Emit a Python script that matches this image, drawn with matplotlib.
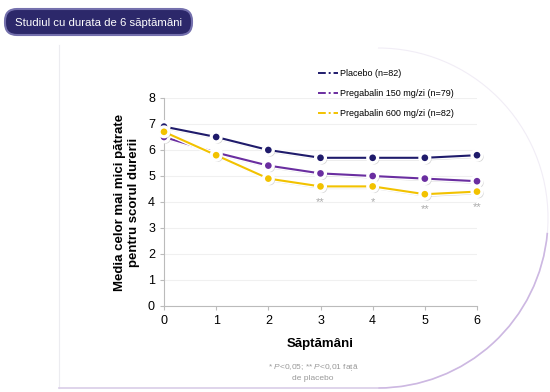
import numpy as np
import matplotlib
matplotlib.use('Agg')
import matplotlib.pyplot as plt
import matplotlib.patheffects as pe
from matplotlib.patches import FancyBboxPatch, Arc

plt.rcParams['font.family'] = ['Liberation Sans', 'DejaVu Sans']
plt.rcParams['mathtext.fontset'] = 'custom'
plt.rcParams['mathtext.it'] = 'Liberation Sans:italic'
plt.rcParams['mathtext.rm'] = 'Liberation Sans'

weeks = [0, 1, 2, 3, 4, 5, 6]
placebo = [6.9, 6.5, 6.0, 5.7, 5.7, 5.7, 5.8]
preg150 = [6.5, 5.9, 5.4, 5.1, 5.0, 4.9, 4.8]
preg600 = [6.7, 5.8, 4.9, 4.6, 4.6, 4.3, 4.4]
stars = ['', '', '', '**', '*', '**', '**']
labels = ['Placebo (n=82)', 'Pregabalin 150 mg/zi (n=79)', 'Pregabalin 600 mg/zi (n=82)']
colors = ['#1f1b6b', '#6a2ea0', '#f2c200']

fig = plt.figure(figsize=(5.5, 3.92), dpi=100)

# decorative background frame (y axis inverted -> angles mirrored)
bg = fig.add_axes([0, 0, 1, 1])
bg.set_xlim(0, 550)
bg.set_ylim(392, 0)
bg.axis('off')
bg.plot([59, 59], [45, 388], color='#ececf0', lw=0.8)
bg.plot([59, 378], [388, 388], color='#d9cde8', lw=1.2)
bg.add_patch(Arc((378, 218), 340, 340, theta1=270, theta2=90, color='#f1edf6', lw=0.8))
bg.add_patch(Arc((378, 218), 340, 340, theta1=5, theta2=90, color='#cdb8e2', lw=1.2))

# title badge
bg.add_patch(FancyBboxPatch((5, 9), 187, 26, boxstyle='round,pad=0,rounding_size=12',
                            fc='#2c286a', ec='#7470ad', lw=1.5))
bg.text(98.5, 22.5, 'Studiul cu durata de 6 săptămâni', color='white', fontsize=8.2,
        ha='center', va='center')

ax = fig.add_axes([164 / 550, 1 - 306 / 392, (477 - 164) / 550, (306 - 98) / 392])
ax.patch.set_alpha(0)
shadow = [pe.SimpleLineShadow(offset=(1.2, -1.2), shadow_color='#888888', alpha=0.35),
          pe.Stroke(linewidth=3.4, foreground='white'), pe.Normal()]
for ys, c, lab in zip([placebo, preg150, preg600], colors, labels):
    ax.plot(weeks, ys, color=c, lw=1.5, marker='o', ms=6, mfc=c, mec='white', mew=1.2,
            path_effects=shadow, zorder=3, clip_on=False)
    ax.plot([], [], color=c, lw=1.4, ls=(0, (4, 1.5, 1, 1.5)), label=lab)

for w, y, s in zip(weeks, preg600, stars):
    if s:
        ax.annotate(s, (w, y), xytext=(0, -11), textcoords='offset points', ha='center',
                    va='center', fontsize=8, color='#aaaaaa')

ax.set_xlim(0, 6)
ax.set_ylim(0, 8)
ax.set_xticks(weeks)
ax.set_yticks(range(9))
ax.grid(axis='y', color='#f0f0f0', lw=0.8)
ax.set_axisbelow(True)
for s in ['top', 'right']:
    ax.spines[s].set_visible(False)
for s in ['left', 'bottom']:
    ax.spines[s].set_color('#bbbbbb')
ax.tick_params(colors='#bbbbbb', labelcolor='black', labelsize=9, length=3, width=0.8)
ax.set_xlabel('Săptămâni', fontsize=9.5, fontweight='bold', labelpad=8)
ax.set_ylabel('Media celor mai mici pătrate\npentru scorul durerii', fontsize=9.5,
              fontweight='bold', labelpad=6)

ax.legend(loc='upper left', bbox_to_anchor=(0.465, 1.18), frameon=False, fontsize=6.5,
          handlelength=2.2, handletextpad=0.3, labelspacing=1.25)

fig.text(313 / 550, 1 - 372 / 392, '* $\\mathit{P}$<0,05; ** $\\mathit{P}$<0,01 față\nde placebo',
         ha='center', va='center', fontsize=6, color='#999999', linespacing=1.4)

fig.savefig('out.png', dpi=100)
